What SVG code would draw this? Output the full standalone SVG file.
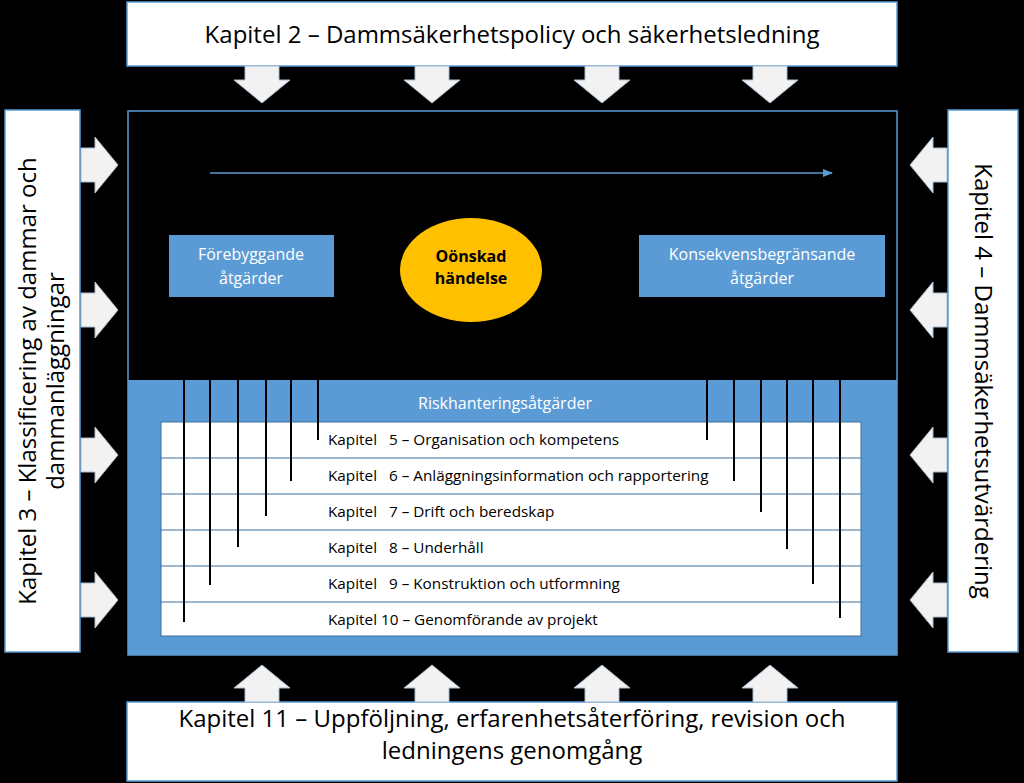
<svg xmlns="http://www.w3.org/2000/svg" width="1024" height="783" viewBox="0 0 1024 783">
<style>
.box{fill:#fff;stroke:#5b9bd5;stroke-width:1.5}
.ba{fill:#f2f2f2;stroke:#a9bcd0;stroke-width:1}
.t{font-family:"Open Sans","Liberation Sans",sans-serif}
.rt{font-family:"Open Sans","Liberation Sans",sans-serif;font-size:15.3px;fill:#000;white-space:pre}
.vl{stroke:#000;stroke-width:2}
</style>
<defs>
<path id="ad" d="M-17,0 H17 V14 H28 L0,37 L-28,14 H-17 Z"/>
<marker id="m" markerWidth="10" markerHeight="8" refX="9" refY="4" orient="auto" markerUnits="userSpaceOnUse"><path d="M0,0 L10,4 L0,8 Z" fill="#5b9bd5"/></marker>
</defs>
<rect width="1024" height="783" fill="#000"/>
<g id="top"><rect class="box" x="127" y="2" width="770" height="64"/><text class="t" x="512" y="43" font-size="24" text-anchor="middle">Kapitel 2 – Dammsäkerhetspolicy och säkerhetsledning</text></g>
<g id="bottom"><rect class="box" x="127" y="702" width="770" height="79"/><text class="t" x="512" y="727" font-size="24" text-anchor="middle">Kapitel 11 – Uppföljning, erfarenhetsåterföring, revision och</text><text class="t" x="512" y="759" font-size="24" text-anchor="middle">ledningens genomgång</text></g>
<g id="left"><rect class="box" x="5" y="110" width="75" height="542"/><text class="t" font-size="24" text-anchor="middle" transform="translate(42,381) rotate(-90)"><tspan x="0" y="-6">Kapitel 3 – Klassificering av dammar och</tspan><tspan x="0" y="22">dammanläggningar</tspan></text></g>
<g id="right"><rect class="box" x="948" y="110" width="70" height="542"/><text class="t" font-size="24" text-anchor="middle" transform="translate(983,381) rotate(90)" y="8">Kapitel 4 – Dammsäkerhetsutvärdering</text></g>
<g id="frame">
<rect x="128" y="111" width="769" height="544" fill="#000" stroke="#5b9bd5" stroke-width="1.5"/>
<rect x="128" y="380" width="769" height="275" fill="#5b9bd5"/>
<text class="t" x="505" y="409" font-size="16" fill="#fff" text-anchor="middle">Riskhanteringsåtgärder</text>
</g>
<g id="table">
<rect x="161" y="422" width="700" height="214" fill="#fff" stroke="#41719c" stroke-width="1"/>
<g stroke="#41719c" stroke-width="1.2"><line x1="161" y1="458" x2="861" y2="458"/><line x1="161" y1="494" x2="861" y2="494"/><line x1="161" y1="530" x2="861" y2="530"/><line x1="161" y1="566" x2="861" y2="566"/><line x1="161" y1="602" x2="861" y2="602"/></g>
<text class="rt" x="328" y="445" xml:space="preserve">Kapitel   5 – Organisation och kompetens</text>
<text class="rt" x="328" y="481" xml:space="preserve">Kapitel   6 – Anläggningsinformation och rapportering</text>
<text class="rt" x="328" y="517" xml:space="preserve">Kapitel   7 – Drift och beredskap</text>
<text class="rt" x="328" y="553" xml:space="preserve">Kapitel   8 – Underhåll</text>
<text class="rt" x="328" y="589" xml:space="preserve">Kapitel   9 – Konstruktion och utformning</text>
<text class="rt" x="328" y="625" xml:space="preserve">Kapitel 10 – Genomförande av projekt</text>
</g>
<g id="fore"><rect x="169" y="235" width="165" height="62" fill="#5b9bd5"/><text class="t" x="251" y="260" font-size="16" fill="#fff" text-anchor="middle">Förebyggande</text><text class="t" x="251" y="284" font-size="16" fill="#fff" text-anchor="middle">åtgärder</text></g>
<g id="kons"><rect x="639" y="235" width="246" height="62" fill="#5b9bd5"/><text class="t" x="762" y="260" font-size="16" fill="#fff" text-anchor="middle">Konsekvensbegränsande</text><text class="t" x="762" y="284" font-size="16" fill="#fff" text-anchor="middle">åtgärder</text></g>
<g id="event"><ellipse cx="471" cy="270" rx="71" ry="52" fill="#ffc000"/><text class="t" x="471" y="262" font-size="16" font-weight="bold" text-anchor="middle">Oönskad</text><text class="t" x="471" y="284" font-size="16" font-weight="bold" text-anchor="middle">händelse</text></g>
<g id="connectors">
<line x1="210" y1="173" x2="832" y2="173" stroke="#5b9bd5" stroke-width="1.5" marker-end="url(#m)"/>
<g class="vl">
<line class="vl" x1="184" y1="380" x2="184" y2="622"/><line class="vl" x1="210" y1="380" x2="210" y2="585"/><line class="vl" x1="238" y1="380" x2="238" y2="547"/><line class="vl" x1="266" y1="380" x2="266" y2="516"/><line class="vl" x1="291" y1="380" x2="291" y2="481"/><line class="vl" x1="318" y1="380" x2="318" y2="440"/>
<line class="vl" x1="707" y1="380" x2="707" y2="440"/><line class="vl" x1="734" y1="380" x2="734" y2="481"/><line class="vl" x1="761" y1="380" x2="761" y2="512"/><line class="vl" x1="787" y1="380" x2="787" y2="549"/><line class="vl" x1="813" y1="380" x2="813" y2="584"/><line class="vl" x1="840" y1="380" x2="840" y2="618"/>
</g>
<g class="ba">
<use href="#ad" transform="translate(262,66)"/><use href="#ad" transform="translate(432,66)"/><use href="#ad" transform="translate(602,66)"/><use href="#ad" transform="translate(770,66)"/>
<use href="#ad" transform="translate(262,702) rotate(180)"/><use href="#ad" transform="translate(432,702) rotate(180)"/><use href="#ad" transform="translate(602,702) rotate(180)"/><use href="#ad" transform="translate(770,702) rotate(180)"/>
<use href="#ad" transform="translate(81,165) rotate(-90)"/><use href="#ad" transform="translate(81,310) rotate(-90)"/><use href="#ad" transform="translate(81,455) rotate(-90)"/><use href="#ad" transform="translate(81,600) rotate(-90)"/>
<use href="#ad" transform="translate(947,165) rotate(90)"/><use href="#ad" transform="translate(947,310) rotate(90)"/><use href="#ad" transform="translate(947,455) rotate(90)"/><use href="#ad" transform="translate(947,600) rotate(90)"/>
</g>
</g>
</svg>
